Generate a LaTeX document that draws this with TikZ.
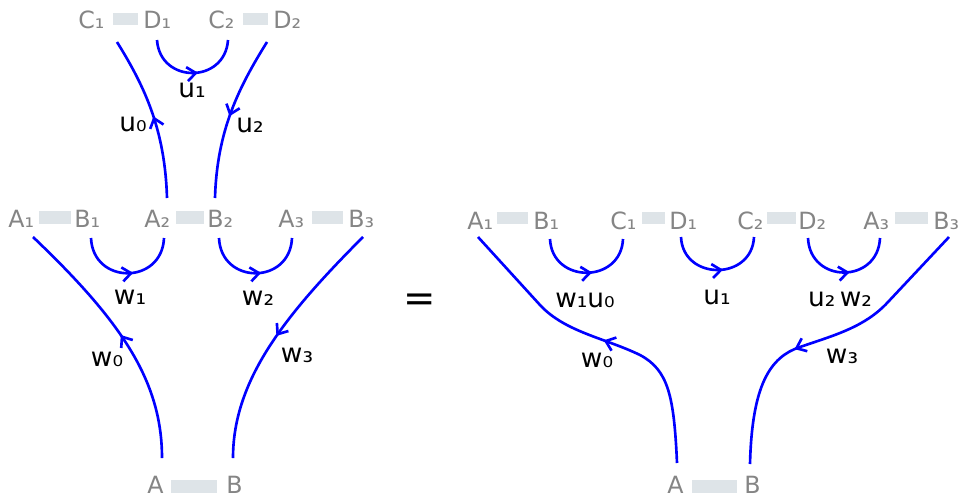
\documentclass[tikz,border=0pt]{standalone}
\usepackage{fontspec}
\setmainfont{DejaVu Sans}
\usetikzlibrary{arrows.meta,decorations.markings}
\definecolor{letgray}{HTML}{858585}
\definecolor{bargray}{HTML}{DEE4E8}

\begin{document}
\begin{tikzpicture}[x=0.02cm, y=-0.02cm, every node/.style={inner sep=0pt},
  lbl/.style={font=\fontsize{13.5}{16}\selectfont, text=letgray, anchor=base west},
  tag/.style={font=\fontsize{15}{18}\selectfont},
  bar/.style={fill=bargray},
  wire/.style={blue, line width=1.5pt, postaction={decorate},
    decoration={markings, mark=at position #1 with {\arrow{Straight Barb[length=5pt,width=8pt]}}}},
  wire/.default=0.5]
  \useasboundingbox (0,0) rectangle (962,497);

  % left side: top row
  \node[lbl] (lc1) at (78,29) {C₁};
  \node[lbl] (ld1) at (143,29) {D₁};
  \node[lbl] (lc2) at (208,29) {C₂};
  \node[lbl] (ld2) at (273,29) {D₂};
  \fill[bar] (113,13) rectangle (138,25);
  \fill[bar] (243,13) rectangle (268,25);
  % left side: middle row
  \node[lbl] (la1) at (8,227) {A₁};
  \node[lbl] (lb1) at (74,227) {B₁};
  \node[lbl] (la2) at (144,227) {A₂};
  \node[lbl] (lb2) at (207,227) {B₂};
  \node[lbl] (la3) at (278,227) {A₃};
  \node[lbl] (lb3) at (348,227) {B₃};
  \fill[bar] (39,211) rectangle (71,224);
  \fill[bar] (176,211) rectangle (204,224);
  \fill[bar] (312,211) rectangle (343,224);
  % left side: bottom
  \node[lbl] (la) at (147,493) {A};
  \node[lbl] (lb) at (226,493) {B};
  \fill[bar] (171,480) rectangle (217,493);

  \draw[wire] ([shift={(23,-29)}]la2.base west) .. controls +(-2,-68) and +(28,45) .. ([shift={(39,13)}]lc1.base west);
  \draw[wire] ([shift={(-6,13)}]ld2.base west) .. controls +(-28,45) and +(2,-68) .. ([shift={(8,-29)}]lb2.base west);
  \draw[wire=0.55] ([shift={(14,11)}]ld1.base west) .. controls +(3,44) and +(-3,44) .. ([shift={(20,11)}]lc2.base west);
  \draw[wire=0.55] ([shift={(17,11)}]lb1.base west) .. controls +(2,47) and +(-2,47) .. ([shift={(20,11)}]la2.base west);
  \draw[wire=0.55] ([shift={(12,11)}]lb2.base west) .. controls +(2,47) and +(-2,47) .. ([shift={(14,11)}]la3.base west);
  \draw[wire] ([shift={(15,-35)}]la.base west) .. controls +(0,-78) and +(87,83) .. ([shift={(25,10)}]la1.base west);
  \draw[wire] ([shift={(15,10)}]lb3.base west) .. controls +(-78,78) and +(0,-78) .. ([shift={(7,-35)}]lb.base west);

  \node[tag] (lu0) at (133,124) {u₀};
  \node[tag] (lu1) at (192,90) {u₁};
  \node[tag] (lu2) at (250,125) {u₂};
  \node[tag] (lw1) at (130,297) {w₁};
  \node[tag] (lw2) at (258,298) {w₂};
  \node[tag] (lw0) at (107,359) {w₀};
  \node[tag] (lw3) at (297,355) {w₃};

  \node[font=\fontsize{22}{24}\selectfont] (eq) at (420,303) {=};

  % right side
  \node[lbl] (ra1) at (467,229) {A₁};
  \node[lbl] (rb1) at (533,229) {B₁};
  \node[lbl] (rc1) at (610,229) {C₁};
  \node[lbl] (rd1) at (669,229) {D₁};
  \node[lbl] (rc2) at (737,229) {C₂};
  \node[lbl] (rd2) at (798,229) {D₂};
  \node[lbl] (ra3) at (863,229) {A₃};
  \node[lbl] (rb3) at (933,229) {B₃};
  \fill[bar] (497,212) rectangle (528,224);
  \fill[bar] (642,212) rectangle (665,224);
  \fill[bar] (767,212) rectangle (796,224);
  \fill[bar] (895,212) rectangle (928,224);
  \node[lbl] (ra) at (667,493) {A};
  \node[lbl] (rb) at (744,493) {B};
  \fill[bar] (692,480) rectangle (737,493);

  \draw[wire=0.55] ([shift={(17,10)}]rb1.base west) .. controls +(2,45) and +(-2,45) .. ([shift={(13,10)}]rc1.base west);
  \draw[wire=0.55] ([shift={(12,8)}]rd1.base west) .. controls +(2,44) and +(-2,44) .. ([shift={(17,8)}]rc2.base west);
  \draw[wire=0.55] ([shift={(10,9)}]rd2.base west) .. controls +(2,46) and +(-2,46) .. ([shift={(17,9)}]ra3.base west);
  \draw[wire=0.49] ([shift={(10,-30)}]ra.base west) .. controls +(-3,-68) and (668,370) .. (640,355)
    .. controls (605,338) and (565,332) .. (540,305) -- ([shift={(11,8)}]ra1.base west);
  \draw[wire=0.6] ([shift={(16,8)}]rb3.base west) -- (888,302) .. controls (865,327) and (835,335) .. (800,347)
    .. controls (770,357) and (752,385) .. ([shift={(6,-29)}]rb.base west);

  \node[tag] (ru10) at (585,300) {w₁u₀};
  \node[tag] (ru1) at (717,297) {u₁};
  \node[tag] (ru2w2) at (840,299) {u₂\,w₂};
  \node[tag] (rw0) at (597,360) {w₀};
  \node[tag] (rw3) at (842,356) {w₃};
\end{tikzpicture}
\end{document}
